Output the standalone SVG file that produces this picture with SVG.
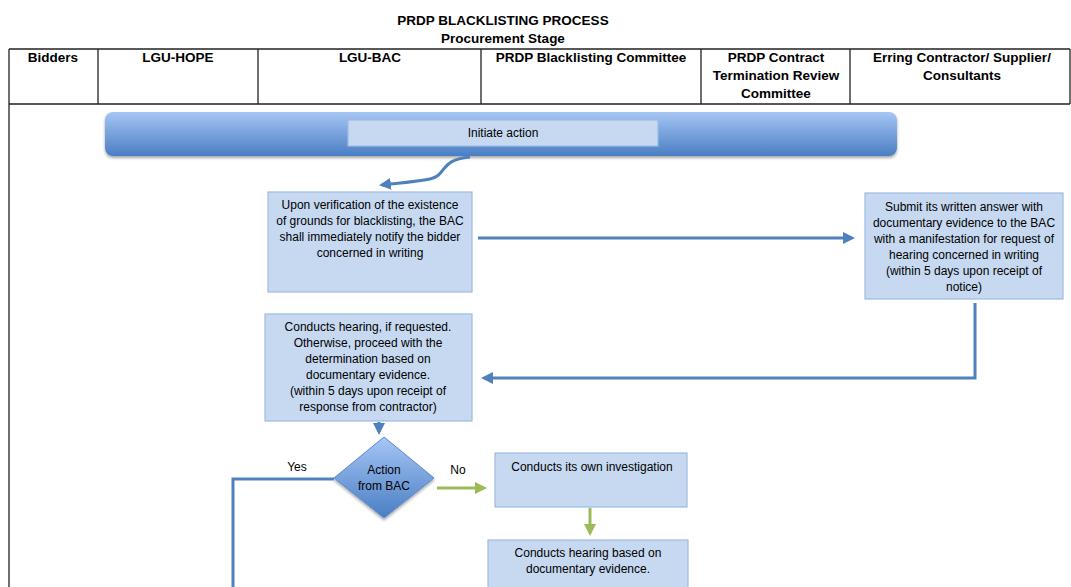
<svg xmlns="http://www.w3.org/2000/svg" width="1071" height="587" viewBox="0 0 1071 587">
<defs>
<style>
text{font-family:"Liberation Sans Narrow","Liberation Sans",Arial,sans-serif;fill:#000}
.ttl{font-size:13.5px;font-weight:bold;text-anchor:middle}
.hd{font-size:13.5px;font-weight:bold;text-anchor:middle}
.t{font-size:12px;text-anchor:middle}
.lbl{font-size:12px;text-anchor:middle}
.box{fill:#c6d9f1;stroke:#9dbbe3;stroke-width:1.2}
.grid{stroke:#222;stroke-width:1.3;fill:none}
.con{fill:none;stroke:#4f81bd;stroke-width:3}
.green{fill:none;stroke:#9bbb59;stroke-width:3}
</style>
<linearGradient id="bandG" x1="0" y1="0" x2="0" y2="1">
<stop offset="0" stop-color="#a6c6f5"/>
<stop offset="1" stop-color="#4a7ec3"/>
</linearGradient>
<linearGradient id="diaG" x1="0" y1="0" x2="0" y2="1">
<stop offset="0" stop-color="#a6c6f5"/>
<stop offset="1" stop-color="#4a7ec3"/>
</linearGradient>
<marker id="ab" markerWidth="4" markerHeight="4" refX="3" refY="2" orient="auto" markerUnits="strokeWidth">
<path d="M0,0 L4,2 L0,4 Z" fill="#4f81bd"/>
</marker>
<marker id="ag" markerWidth="4" markerHeight="4" refX="3" refY="2" orient="auto" markerUnits="strokeWidth">
<path d="M0,0 L4,2 L0,4 Z" fill="#9bbb59"/>
</marker>
<filter id="sh" x="-5%" y="-20%" width="110%" height="150%">
<feDropShadow dx="0" dy="2" stdDeviation="1.5" flood-color="#000" flood-opacity="0.35"/>
</filter>
</defs>
<rect width="1071" height="587" fill="#fff"/>

<g id="title">
<text class="ttl" x="503" y="25">PRDP BLACKLISTING PROCESS</text>
<text class="ttl" x="503" y="43">Procurement Stage</text>
</g>

<g id="table">
<path class="grid" d="M9,49 H1070 M9,104 H1070 M9,49 V587 M98,49 V104 M258,49 V104 M481,49 V104 M701,49 V104 M850,49 V104 M1070,49 V104"/>
<text class="hd" x="53" y="62">Bidders</text>
<text class="hd" x="178" y="62">LGU-HOPE</text>
<text class="hd" x="370" y="62">LGU-BAC</text>
<text class="hd" x="591" y="62">PRDP Blacklisting Committee</text>
<text class="hd" x="776" y="62">PRDP Contract</text>
<text class="hd" x="776" y="80">Termination Review</text>
<text class="hd" x="776" y="98">Committee</text>
<text class="hd" x="962" y="62">Erring Contractor/ Supplier/</text>
<text class="hd" x="962" y="80">Consultants</text>
</g>

<g id="band">
<rect x="105" y="112" width="792" height="44" rx="8" fill="url(#bandG)" filter="url(#sh)"/>
</g>
<g id="initiate">
<rect class="box" x="348" y="120" width="310" height="26"/>
<text class="t" x="503" y="137">Initiate action</text>
</g>

<g id="notify">
<rect class="box" x="268" y="192" width="204" height="100"/>
<text class="t" x="370" y="209">Upon verification  of the existence</text>
<text class="t" x="370" y="225">of grounds for blacklisting,  the BAC</text>
<text class="t" x="370" y="241">shall immediately  notify the bidder</text>
<text class="t" x="370" y="257">concerned in writing</text>
</g>

<g id="answer">
<rect class="box" x="865" y="193" width="198" height="106"/>
<text class="t" x="964" y="211">Submit its written answer with</text>
<text class="t" x="964" y="227">documentary  evidence to the BAC</text>
<text class="t" x="964" y="243">with a manifestation  for request of</text>
<text class="t" x="964" y="259">hearing concerned in writing</text>
<text class="t" x="964" y="275">(within  5 days upon receipt of</text>
<text class="t" x="964" y="291">notice)</text>
</g>

<g id="hearing">
<rect class="box" x="265" y="314" width="207" height="107"/>
<text class="t" x="368" y="331">Conducts hearing, if requested.</text>
<text class="t" x="368" y="347">Otherwise,  proceed with the</text>
<text class="t" x="368" y="363">determination  based on</text>
<text class="t" x="368" y="379">documentary  evidence.</text>
<text class="t" x="368" y="395">(within  5 days upon receipt of</text>
<text class="t" x="368" y="411">response from contractor)</text>
</g>

<g id="decision">
<path d="M384,437 L434,478 L384,518 L334,478 Z" fill="url(#diaG)" stroke="#5b8bd0" stroke-width="1" filter="url(#sh)"/>
<text class="t" x="384" y="474">Action</text>
<text class="t" x="384" y="490">from BAC</text>
</g>

<g id="investigation">
<rect class="box" x="495" y="453" width="192" height="54"/>
<text class="t" x="592" y="471">Conducts its own investigation</text>
</g>

<g id="hearing2">
<rect class="box" x="488" y="540" width="200" height="52"/>
<text class="t" x="588" y="557">Conducts hearing based on</text>
<text class="t" x="588" y="573">documentary  evidence.</text>
</g>

<g id="connectors">
<path class="con" d="M470,157 C438,160 448,175 430,179 C415,182 398,183 382,185" marker-end="url(#ab)"/>
<path class="con" d="M478,238 H852" marker-end="url(#ab)"/>
<path class="con" d="M975,303 V378 H484" marker-end="url(#ab)"/>
<path class="con" d="M379,422 V432" marker-end="url(#ab)"/>
<path class="con" d="M334,479 H233 V587"/>
<path class="green" d="M437,488 H484" marker-end="url(#ag)"/>
<path class="green" d="M590,508 V533" marker-end="url(#ag)"/>
<text class="lbl" x="297" y="471">Yes</text>
<text class="lbl" x="458" y="474">No</text>
</g>
</svg>
